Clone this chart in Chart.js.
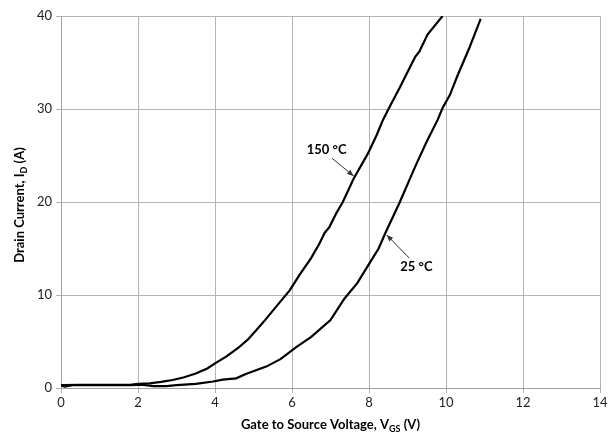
<!DOCTYPE html>
<html>
<head>
<meta charset="utf-8">
<script src="https://cdn.jsdelivr.net/npm/chart.js@4/dist/chart.umd.min.js"></script>
<style>
  html, body { margin: 0; padding: 0; background: #fff; }
  #wrap { width: 615px; height: 434px; position: relative; }
</style>
</head>
<body>
<div id="wrap"><canvas id="chart"></canvas></div>
<script>
// Gate voltage (V) and drain current (A)
var vgs150 = [0, 0.5, 1, 1.5, 1.8, 2, 2.3, 2.6, 2.9, 3.2, 3.5, 3.8, 4.0, 4.3, 4.6, 4.85, 5.07, 5.3, 5.6, 5.94,
              6.2, 6.5, 6.72, 6.85, 6.97, 7.15, 7.32, 7.6, 7.97, 8.2, 8.36, 8.53, 8.8, 9.09, 9.2, 9.31, 9.52, 9.91];
var id150  = [0.3, 0.35, 0.35, 0.35, 0.35, 0.45, 0.5, 0.65, 0.86, 1.15, 1.55, 2.1, 2.65, 3.4, 4.3, 5.2, 6.2, 7.3, 8.8, 10.5,
              12.2, 14.0, 15.6, 16.7, 17.3, 18.8, 20.0, 22.5, 25.2, 27.2, 28.8, 30.2, 32.3, 34.7, 35.6, 36.2, 38.0, 40];

var vgs25 = [0, 0.1, 0.3, 1, 1.8, 2.1, 2.4, 2.74, 3.0, 3.5, 3.95, 4.2, 4.55, 4.8, 5.33, 5.7, 6.11, 6.5, 7, 7.36,
             7.7, 8.01, 8.25, 8.44, 8.79, 9.2, 9.5, 9.78, 9.91, 10.1, 10.3, 10.6, 10.9];
var id25  = [0.3, 0.15, 0.3, 0.3, 0.3, 0.35, 0.2, 0.2, 0.3, 0.45, 0.7, 0.9, 1.04, 1.5, 2.3, 3.1, 4.4, 5.5, 7.3, 9.6,
             11.3, 13.4, 15.0, 16.8, 19.9, 23.8, 26.5, 28.8, 30.1, 31.5, 33.6, 36.5, 39.7];

var xTicks = [0, 2, 4, 6, 8, 10, 12, 14];
var yTicks = [0, 10, 20, 30, 40];

// curve labels: text position and arrow (from -> to), in data units
var labels = [
  { text: '150 °C', x: 6.9, y: 25.6, ax: 7.04, ay: 24.7, bx: 7.6, by: 22.8 },
  { text: '25 °C',  x: 9.23, y: 13.0, ax: 9.05, ay: 13.95, bx: 8.46, by: 16.45 }
];

function toPoints(xs, ys) {
  return xs.map(function (x, i) { return { x: x, y: ys[i] }; });
}

var fontFam = 'Lato, "Open Sans", "Liberation Sans", sans-serif';

var extras = {
  id: 'extras',
  afterDraw: function (chart) {
    var ctx = chart.ctx;
    var xs = chart.scales.x, ys = chart.scales.y;
    var area = chart.chartArea;
    ctx.save();
    ctx.fillStyle = '#000';

    // curve labels + arrows
    labels.forEach(function (l) {
      ctx.font = 'bold 13px ' + fontFam;
      ctx.textAlign = 'center';
      ctx.textBaseline = 'middle';
      ctx.fillStyle = '#000';
      ctx.fillText(l.text, xs.getPixelForValue(l.x), ys.getPixelForValue(l.y));
      var x1 = xs.getPixelForValue(l.ax), y1 = ys.getPixelForValue(l.ay);
      var x2 = xs.getPixelForValue(l.bx), y2 = ys.getPixelForValue(l.by);
      ctx.strokeStyle = '#333';
      ctx.lineWidth = 1;
      ctx.beginPath();
      ctx.moveTo(x1, y1);
      ctx.lineTo(x2, y2);
      ctx.stroke();
      var a = Math.atan2(y2 - y1, x2 - x1);
      ctx.beginPath();
      ctx.moveTo(x2, y2);
      ctx.lineTo(x2 - 7 * Math.cos(a - 0.4), y2 - 7 * Math.sin(a - 0.4));
      ctx.lineTo(x2 - 7 * Math.cos(a + 0.4), y2 - 7 * Math.sin(a + 0.4));
      ctx.closePath();
      ctx.fillStyle = '#333';
      ctx.fill();
    });

    // axis titles with subscripts
    ctx.fillStyle = '#000';
    ctx.textBaseline = 'alphabetic';
    function subText(parts, big, small) {
      var w = 0;
      parts.forEach(function (p) {
        ctx.font = 'bold ' + (p.sub ? small : big) + 'px ' + fontFam;
        p.w = ctx.measureText(p.t).width;
        w += p.w;
      });
      return w;
    }
    function drawParts(parts, x0, y0, big, small) {
      var x = x0;
      ctx.textAlign = 'left';
      parts.forEach(function (p) {
        ctx.font = 'bold ' + (p.sub ? small : big) + 'px ' + fontFam;
        ctx.fillText(p.t, x, p.sub ? y0 + 3 : y0);
        x += p.w;
      });
    }

    var xt = [{ t: 'Gate to Source Voltage, V' }, { t: 'GS', sub: true }, { t: ' (V)' }];
    var wx = subText(xt, 13, 9);
    drawParts(xt, (area.left + area.right) / 2 - wx / 2, 429, 13, 9);

    var yt = [{ t: 'Drain Current, I' }, { t: 'D', sub: true }, { t: ' (A)' }];
    var wy = subText(yt, 13, 9);
    ctx.translate(24, (area.top + area.bottom) / 2 + 3);
    ctx.rotate(-Math.PI / 2);
    drawParts(yt, -wy / 2, 0, 13, 9);
    ctx.restore();
  }
};

new Chart(document.getElementById('chart').getContext('2d'), {
  type: 'line',
  data: {
    datasets: [
      { label: '150 °C', data: toPoints(vgs150, id150), borderColor: '#000', borderWidth: 2.2,
        pointRadius: 0, tension: 0, fill: false },
      { label: '25 °C', data: toPoints(vgs25, id25), borderColor: '#000', borderWidth: 2.2,
        pointRadius: 0, tension: 0, fill: false }
    ]
  },
  options: {
    responsive: true,
    maintainAspectRatio: false,
    animation: false,
    devicePixelRatio: 1,
    layout: { padding: { left: 0, right: 15, top: 16, bottom: 0 } },
    plugins: { legend: { display: false }, tooltip: { enabled: false } },
    scales: {
      x: {
        type: 'linear', min: 0, max: 14,
        afterBuildTicks: function (s) { s.ticks = xTicks.map(function (v) { return { value: v }; }); },
        afterFit: function (s) { s.height = 46; },
        grid: { color: '#b4b4b4', lineWidth: 1, tickLength: 5 },
        border: { color: '#a0a0a0' },
        ticks: { color: '#222', font: { family: fontFam, size: 13 }, padding: 2, maxRotation: 0 }
      },
      y: {
        min: 0, max: 40,
        afterBuildTicks: function (s) { s.ticks = yTicks.map(function (v) { return { value: v }; }); },
        afterFit: function (s) { s.width = 61; },
        grid: { color: '#b4b4b4', lineWidth: 1, tickLength: 5 },
        border: { color: '#a0a0a0' },
        ticks: { color: '#222', font: { family: fontFam, size: 13 }, padding: 4 }
      }
    }
  },
  plugins: [extras]
});
</script>
</body>
</html>
